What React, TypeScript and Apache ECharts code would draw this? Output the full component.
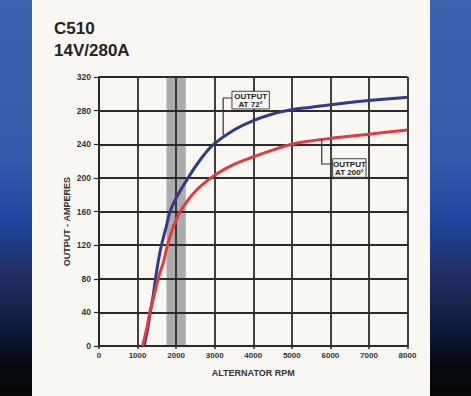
import React, { useEffect, useRef } from 'react';
import * as echarts from 'echarts';

const TITLE_LINES = ['C510', '14V/280A'];
const X_NAME = 'ALTERNATOR RPM';
const Y_NAME = 'OUTPUT - AMPERES';
const X_LABELS = [0, 1000, 2000, 3000, 4000, 5000, 6000, 7000, 8000];
const Y_LABELS = [0, 40, 80, 120, 160, 200, 240, 280, 320];

const BLUE_RPM = [1170, 1260, 1330, 1405, 1466, 1534, 1620, 1733, 1845, 2000, 2350, 2700, 3000, 3500, 4000, 4500, 5000, 5500, 6000, 7000, 8000];
const BLUE_AMPS = [0, 20, 40, 60, 80, 100, 120, 140, 160, 176, 203, 226, 241, 257, 268, 276, 281, 284, 287, 292, 296];

const RED_RPM = [1130, 1233, 1319, 1431, 1534, 1672, 1776, 1914, 2110, 2500, 3000, 3500, 4000, 4500, 5000, 5500, 6000, 7000, 8000];
const RED_AMPS = [0, 20, 40, 60, 80, 100, 120, 140, 160, 184, 203, 216, 225, 233, 240, 244, 247, 252, 257];

const BAND_RPM = [1750, 2250];

const NOTE_72 = 'OUTPUT\nAT 72°';
const NOTE_200 = 'OUTPUT\nAT 200°';

const FONT = '"Liberation Sans", Arial, sans-serif';
const PAPER = '#f8f7f2';
const INK = '#2b2b2b';

export default function App() {
  const ref = useRef<HTMLDivElement>(null);

  useEffect(() => {
    const chart = echarts.init(ref.current!, null, { renderer: 'svg' });
    const blue = BLUE_RPM.map((x, i) => [x, BLUE_AMPS[i]]);
    const red = RED_RPM.map((x, i) => [x, RED_AMPS[i]]);

    chart.setOption({
      animation: false,
      backgroundColor: PAPER,
      textStyle: { fontFamily: FONT },
      grid: { left: 99, right: 63.5, top: 77, bottom: 50 },
      xAxis: {
        type: 'value',
        min: 0,
        max: 8000,
        interval: 500,
        name: X_NAME,
        nameLocation: 'middle',
        nameGap: 22,
        nameTextStyle: { fontFamily: FONT, fontWeight: 'bold', fontSize: 9, color: '#333' },
        axisLine: { show: true, lineStyle: { color: INK, width: 2 } },
        axisTick: { show: true, length: 3, customValues: X_LABELS, lineStyle: { color: INK, width: 1.5 } },
        axisLabel: {
          customValues: X_LABELS,
          formatter: (v: number) => String(v),
          margin: 5,
          fontFamily: FONT,
          fontWeight: 'bold',
          fontSize: 8,
          color: '#333',
        },
        splitLine: { show: true, lineStyle: { color: INK, width: 1.8 } },
      },
      yAxis: {
        type: 'value',
        min: 0,
        max: 320,
        interval: 20,
        axisLine: { show: true, lineStyle: { color: INK, width: 2 } },
        axisTick: { show: true, length: 5, customValues: Y_LABELS, lineStyle: { color: INK, width: 1.2 } },
        axisLabel: {
          customValues: Y_LABELS,
          formatter: (v: number) => String(v),
          margin: 8,
          fontFamily: FONT,
          fontWeight: 'bold',
          fontSize: 8.5,
          color: '#333',
        },
        splitLine: { show: true, lineStyle: { color: INK, width: 1.8 } },
      },
      series: [
        {
          type: 'custom',
          z: -1,
          silent: true,
          data: [[BAND_RPM[0], BAND_RPM[1], 0, 320]],
          encode: { x: [0, 1], y: [2, 3] },
          renderItem: (_p: any, api: any) => {
            const a = api.coord([api.value(0), api.value(3)]);
            const b = api.coord([api.value(1), api.value(2)]);
            return {
              type: 'rect',
              shape: { x: a[0], y: a[1], width: b[0] - a[0], height: b[1] - a[1] },
              style: { fill: '#acacac' },
            };
          },
        },
        {
          type: 'line',
          data: blue,
          smooth: 0.4,
          showSymbol: false,
          lineStyle: { color: '#2e3b8c', width: 3 },
          z: 3,
        },
        {
          type: 'line',
          data: red,
          smooth: 0.4,
          showSymbol: false,
          lineStyle: { color: '#e63a3f', width: 3 },
          z: 4,
        },
      ],
    });

    const px = (x: number, y: number) => chart.convertToPixel({ gridIndex: 0 }, [x, y]) as number[];

    const sideGradient = () =>
      new echarts.graphic.LinearGradient(0, 0, 0, 1, [
        { offset: 0, color: '#3b63ae' },
        { offset: 0.4, color: '#315aab' },
        { offset: 0.55, color: '#1e48a0' },
        { offset: 0.68, color: '#22306a' },
        { offset: 0.76, color: '#1a2550' },
        { offset: 0.84, color: '#0c1838' },
        { offset: 0.93, color: '#05090f' },
        { offset: 1, color: '#070707' },
      ]);

    const note = (text: string, x0: number, y0: number, x1: number, y1: number, leader: number[][]) => {
      const a = px(x0, y0);
      const b = px(x1, y1);
      const pts = leader.map((p) => px(p[0], p[1]));
      return [
        {
          type: 'polyline',
          z: 20,
          shape: { points: pts },
          style: { stroke: '#333', lineWidth: 1.2, fill: 'none' },
        },
        {
          type: 'rect',
          z: 21,
          shape: { x: a[0], y: a[1], width: b[0] - a[0], height: b[1] - a[1] },
          style: { fill: PAPER, stroke: '#444', lineWidth: 1 },
        },
        {
          type: 'text',
          z: 22,
          x: (a[0] + b[0]) / 2,
          y: (a[1] + b[1]) / 2 + 0.5,
          style: {
            text,
            fill: '#222',
            font: `bold 8px ${FONT}`,
            lineHeight: 8.5,
            align: 'center',
            verticalAlign: 'middle',
          },
        },
      ];
    };

    const yMid = px(0, 148);

    chart.setOption({
      graphic: [
        { type: 'rect', z: 0, shape: { x: 0, y: 0, width: 32, height: 396 }, style: { fill: sideGradient() } },
        { type: 'rect', z: 0, shape: { x: 430, y: 0, width: 41, height: 396 }, style: { fill: sideGradient() } },
        {
          type: 'text',
          x: 54,
          y: 28,
          style: { text: TITLE_LINES[0], fill: '#232323', font: `bold 17px ${FONT}`, verticalAlign: 'middle' },
        },
        {
          type: 'text',
          x: 54,
          y: 50,
          style: { text: TITLE_LINES[1], fill: '#232323', font: `bold 17px ${FONT}`, verticalAlign: 'middle' },
        },
        {
          type: 'text',
          x: 67,
          y: yMid[1],
          rotation: Math.PI / 2,
          style: { text: Y_NAME, fill: '#333', font: `bold 9px ${FONT}`, align: 'center', verticalAlign: 'middle' },
        },
        ...note(NOTE_72, 3447, 303, 4416, 282, [[3447, 295], [3220, 295], [3220, 251]]),
        ...note(NOTE_200, 6060, 222.8, 6925, 200.7, [[6060, 216.5], [5776, 216.5], [5776, 246]]),
      ],
    });

    return () => chart.dispose();
  }, []);

  return <div ref={ref} style={{ position: 'absolute', left: 0, top: 0, width: 471, height: 396 }} />;
}
